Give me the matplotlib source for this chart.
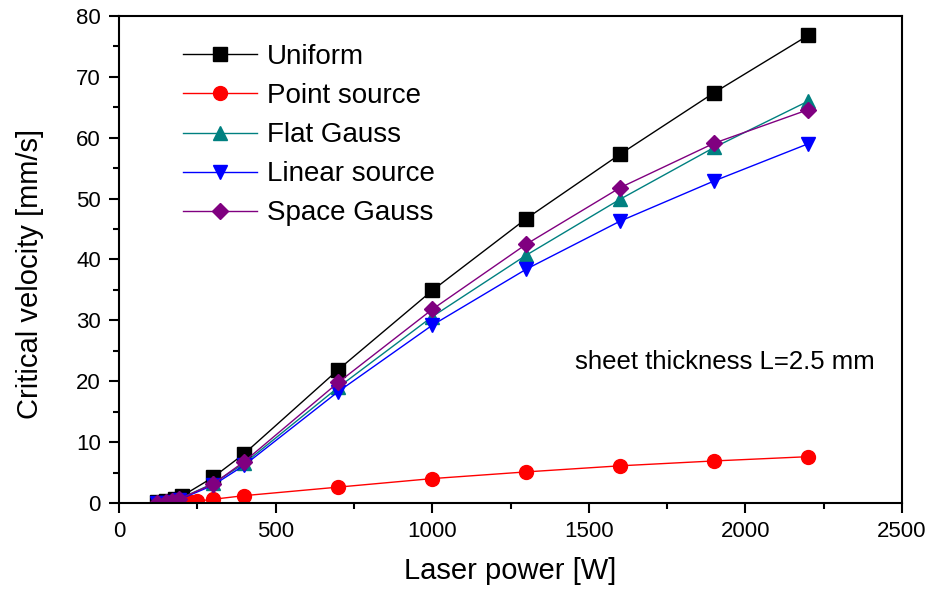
import matplotlib
matplotlib.use('Agg')
import matplotlib.pyplot as plt
from matplotlib.ticker import MultipleLocator

plt.rcParams['font.family'] = ['Liberation Sans', 'DejaVu Sans']

# laser power [W] and critical velocity [mm/s] for each heat source model
p_uniform = [120, 150, 180, 200, 300, 400, 700, 1000, 1300, 1600, 1900, 2200]
v_uniform = [0.1, 0.3, 0.7, 1.1, 4.2, 8.1, 21.9, 34.9, 46.7, 57.3, 67.4, 76.8]

p_point = [230, 250, 300, 400, 700, 1000, 1300, 1600, 1900, 2200]
v_point = [0.1, 0.3, 0.6, 1.2, 2.6, 4.0, 5.1, 6.1, 6.9, 7.6]

p_flat = [120, 150, 170, 190, 300, 400, 700, 1000, 1300, 1600, 1900, 2200]
v_flat = [0.05, 0.1, 0.3, 0.6, 3.2, 6.5, 19.0, 30.6, 40.7, 49.9, 58.4, 66.0]

p_linear = [120, 150, 170, 190, 300, 400, 700, 1000, 1300, 1600, 1900, 2200]
v_linear = [0.0, 0.05, 0.2, 0.5, 2.9, 6.2, 18.3, 29.2, 38.4, 46.3, 52.9, 59.0]

p_space = [120, 150, 170, 190, 300, 400, 700, 1000, 1300, 1600, 1900, 2200]
v_space = [0.05, 0.1, 0.3, 0.6, 3.1, 6.8, 19.8, 31.8, 42.5, 51.8, 59.1, 64.6]

fig = plt.figure(figsize=(9.3, 5.91), dpi=100)
ax = fig.add_axes([0.128, 0.149, 0.842, 0.824])

ms = 10
lw = 1.0
ax.plot(p_uniform, v_uniform, '-', color='black', marker='s', ms=ms - 0.5, lw=lw, label='Uniform')
ax.plot(p_point, v_point, '-', color='red', marker='o', ms=ms, lw=lw, label='Point source')
ax.plot(p_flat, v_flat, '-', color='#008080', marker='^', ms=ms, lw=lw, label='Flat Gauss')
ax.plot(p_linear, v_linear, '-', color='blue', marker='v', ms=ms, lw=lw, label='Linear source')
ax.plot(p_space, v_space, '-', color='purple', marker='D', ms=ms - 1.5, lw=lw, label='Space Gauss')

ax.set_xlim(0, 2500)
ax.set_ylim(0, 80)
ax.xaxis.set_major_locator(MultipleLocator(500))
ax.xaxis.set_minor_locator(MultipleLocator(250))
ax.yaxis.set_major_locator(MultipleLocator(10))
ax.yaxis.set_minor_locator(MultipleLocator(5))
ax.tick_params(which='major', direction='out', length=7, width=1.5, labelsize=16, pad=6)
ax.tick_params(which='minor', direction='out', length=4, width=1.5)
for s in ax.spines.values():
    s.set_linewidth(1.5)

ax.set_xlabel('Laser power [W]', fontsize=21, labelpad=11)
ax.set_ylabel('Critical velocity [mm/s]', fontsize=21, labelpad=23, y=0.47)

ax.text(0.774, 0.29, 'sheet thickness L=2.5 mm', transform=ax.transAxes,
        fontsize=18.5, ha='center', va='center')

ax.legend(loc='upper left', bbox_to_anchor=(0.068, 0.965), frameon=False,
          fontsize=20, handlelength=2.66, handletextpad=0.36, labelspacing=0.47,
          borderaxespad=0)

fig.savefig('out.png', dpi=100)
